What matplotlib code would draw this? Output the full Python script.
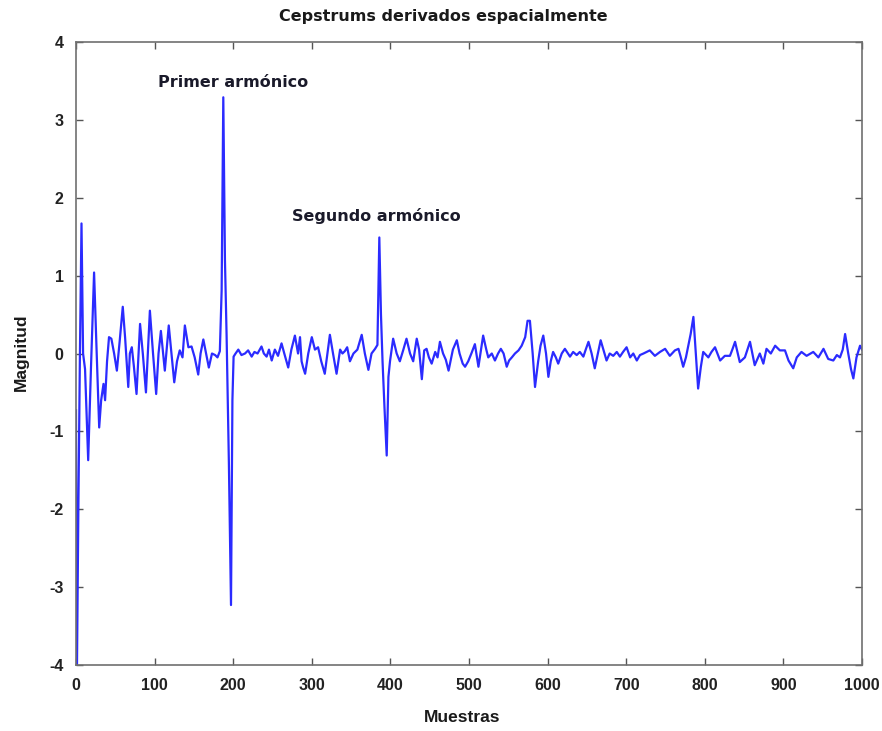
import matplotlib
matplotlib.use("Agg")
import matplotlib.pyplot as plt
import numpy as np

plt.rcParams["axes.unicode_minus"] = False

# cepstrum derivado: muestra -> magnitud
muestras = [
    0, 1, 3, 5, 7, 9, 11.5, 15.5, 19, 23, 26, 29.5, 32, 35, 37, 39.5, 42, 45, 48.5, 52,
    55.5, 59.5, 62.5, 66.5, 68.5, 71, 73.5, 77, 81.5, 85, 89, 94, 98, 102, 105, 108,
    113, 118, 121.5, 125, 128.5, 132, 135.5, 138.5, 143, 147, 151, 155.5, 158.5, 162,
    165.5, 169, 173, 177, 180, 183, 185.3, 187.4, 189.5, 191.6, 194.5, 197.2, 199, 200.5,
    203, 206.5, 210.5, 215, 219, 223.5, 227, 231, 236, 239, 242.5, 245.5, 249, 253,
    257, 261.5, 265, 270, 274, 278.5, 282.5, 285, 287, 289, 291.5, 295.5, 300, 304,
    308, 312, 316.5, 323, 327, 331.5, 336, 339, 342, 345, 348.5, 353, 358, 363.5,
    367.5, 372, 376, 380.5, 383.5, 385.9, 388, 390, 392.5, 395.3, 397.5, 399.5, 403.5,
    408, 412, 416.5, 420.5, 425, 429, 433.5, 436.5, 440, 443, 446, 449, 452.5, 457,
    460, 463, 467, 470.5, 474, 479.5, 484.5, 488, 492, 495, 499, 503, 507.5, 512,
    518, 522, 524.5, 529, 533, 537, 540.5, 544, 548, 551, 554.5, 558.5, 563, 567,
    571.5, 574.5, 577.5, 581, 584, 588, 591, 594.5, 598, 601, 604, 607, 610.5, 613.5,
    618, 622, 628.5, 632.5, 637, 641, 645.5, 648.5, 652, 656, 660, 664, 667.5, 671,
    675, 679, 683.5, 688, 692, 696, 700.5, 705, 709, 713.5, 717.5, 722, 730, 736.5,
    743, 749.5, 755.5, 762, 766.5, 769.5, 772.5, 776, 779, 782, 785.5, 788.5, 791.5,
    795, 798, 804.5, 808.5, 813, 816, 819.5, 825.5, 832, 835, 838.5, 844.5, 851,
    857.5, 863.5, 870, 874.5, 878.5, 884, 889.5, 895.5, 902, 906.5, 912.5, 917, 923,
    929.5, 938, 944.5, 951, 957, 963.5, 968, 972, 975.5, 978.5, 982.5, 986, 989,
    993, 997.5, 1000,
]
magnitud = [
    -0.73, -4.3, -2.0, 0.0, 1.67, 0.0, -0.2, -1.37, -0.2, 1.04, 0.1, -0.95, -0.6, -0.39,
    -0.6, -0.1, 0.21, 0.19, 0.0, -0.22,
    0.15, 0.6, 0.2, -0.43, 0.0, 0.08, -0.15, -0.52, 0.38, 0.0, -0.5, 0.55, 0.0, -0.52,
    0.0, 0.29,
    -0.22, 0.36, 0.0, -0.37, -0.1, 0.04, -0.05, 0.36, 0.08, 0.09, -0.05, -0.27, 0.0, 0.18,
    0.0, -0.18, 0.0, -0.02, -0.05, 0.03, 0.81, 3.29, 1.2, 0.23, -1.4, -3.23, -0.6, -0.04,
    0.0, 0.05, -0.02, 0.0, 0.04, -0.04, 0.02, 0.0, 0.09, 0.0, -0.04, 0.05, -0.09, 0.05,
    -0.03, 0.13, 0.0, -0.18, 0.05, 0.23, 0.0, 0.21, -0.1, -0.18, -0.26, 0.0, 0.21, 0.05,
    0.08, -0.1, -0.26, 0.24, 0.0, -0.26, 0.05, 0.0, 0.03, 0.08, -0.1, 0.0, 0.05, 0.24,
    0.0, -0.21, 0.0, 0.06, 0.11, 1.49, 0.5, -0.1, -0.7, -1.31, -0.3, -0.1, 0.19,
    0.0, -0.1, 0.05, 0.19, 0.0, -0.1, 0.19, 0.05, -0.33, 0.04, 0.06, -0.05, -0.13, 0.02,
    -0.05, 0.15, 0.0, -0.08, -0.22, 0.05, 0.17, 0.0, -0.13, -0.17, -0.1, 0.0, 0.12, -0.17,
    0.23, 0.05, -0.05, 0.0, -0.09, 0.0, 0.06, 0.0, -0.17, -0.09, -0.05, 0.0, 0.04, 0.1,
    0.21, 0.42, 0.42, 0.0, -0.43, -0.1, 0.1, 0.23, 0.0, -0.3, -0.1, 0.02, -0.05, -0.13,
    0.0, 0.06, -0.04, 0.02, -0.02, 0.02, -0.04, 0.05, 0.15, 0.0, -0.19, 0.0, 0.17, 0.05,
    -0.09, 0.0, -0.03, 0.02, -0.04, 0.02, 0.08, -0.05, 0.0, -0.09, -0.02, 0.0, 0.04, -0.03,
    0.02, 0.06, -0.03, 0.04, 0.06, -0.05, -0.17, -0.05, 0.1, 0.25, 0.47, 0.0, -0.45,
    -0.17, 0.02, -0.05, 0.02, 0.08, 0.0, -0.09, -0.03, -0.03, 0.05, 0.15, -0.11, -0.05,
    0.15, -0.15, 0.0, -0.13, 0.06, 0.0, 0.1, 0.04, 0.04, -0.09, -0.19, -0.05, 0.02,
    -0.03, 0.02, -0.05, 0.06, -0.07, -0.09, -0.02, -0.05, 0.05, 0.25, 0.0, -0.2, -0.32,
    -0.05, 0.1, 0.05,
]

xticks = list(range(0, 1001, 100))
yticks = list(range(-4, 5))

# etiquetas de los picos armonicos (texto, x, y)
picos = [("Primer armónico", 200, 3.48), ("Segundo armónico", 382, 1.77)]

narrow = ["Liberation Sans Narrow", "Liberation Sans", "DejaVu Sans"]

fig = plt.figure(figsize=(8.82, 7.31), dpi=100)
ax = fig.add_axes([76 / 882, 1 - 665 / 731, (862 - 76) / 882, (665 - 42) / 731])

ax.plot(muestras, magnitud, color="#2b2bff", lw=1.6)

ax.set_xlim(0, 1000)
ax.set_ylim(-4, 4)
ax.set_xticks(xticks)
ax.set_yticks(yticks)
ax.tick_params(direction="in", top=True, right=True, length=5, width=1,
               color="#555555", pad=9)
for lab in ax.get_xticklabels() + ax.get_yticklabels():
    lab.set_family(narrow)
    lab.set_fontweight("bold")
    lab.set_fontsize(11.5)
    lab.set_color("#222222")
for s in ax.spines.values():
    s.set_color("#707070")
    s.set_linewidth(1.2)

for txt, x, y in picos:
    ax.text(x, y, txt, ha="center", va="center", fontsize=11.5,
            fontweight="bold", color="#1a1a2a", family="DejaVu Sans")

fig.text(443 / 882, 1 - 17 / 731, "Cepstrums derivados espacialmente",
         ha="center", va="center", fontsize=11.5, fontweight="bold",
         color="#1a1a1a", family="DejaVu Sans")
fig.text(462 / 882, 1 - 718 / 731, "Muestras", ha="center", va="center",
         fontsize=12.5, fontweight="bold", color="#1a1a1a", family=narrow)
fig.text(21 / 882, 1 - 352 / 731, "Magnitud", ha="center", va="center",
         rotation=90, fontsize=12.5, fontweight="bold", color="#1a1a1a",
         family=narrow)

fig.savefig("out.png", dpi=100)
